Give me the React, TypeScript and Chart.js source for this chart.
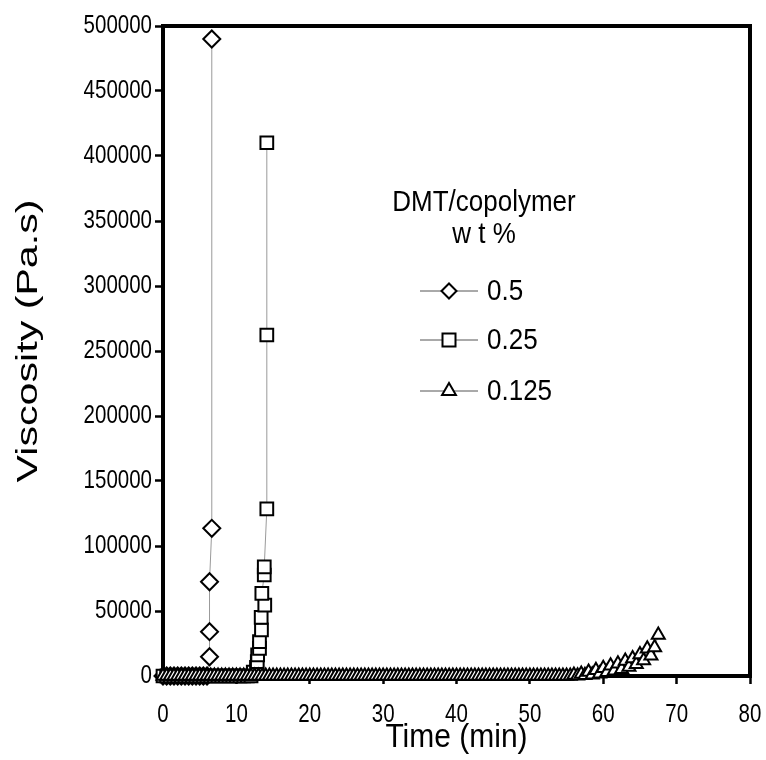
import React, { useEffect, useRef } from 'react';
import { Chart, registerables } from 'chart.js';

Chart.register(...registerables);

// 0.5 wt% (diamonds)
const time05 = [0, 0.5, 1, 1.5, 2, 2.5, 3, 3.5, 4, 4.5, 5, 5.5, 6, 6.34, 6.34, 6.34, 6.65, 6.65];
const visc05 = [0, 0, 0, 0, 0, 0, 0, 0, 0, 0, 0, 0, 0, 14800, 34100, 72500, 113600, 490000];

// 0.25 wt% (squares)
const time025 = [
  0, 0.5, 1, 1.5, 2, 2.5, 3, 3.5, 4, 4.5, 5, 5.5, 6, 6.5, 7, 7.5, 8, 8.5, 9, 9.5, 10, 10.5, 11, 11.5, 12,
  12.3, 12.74, 12.85, 12.9, 13.15, 13.15, 13.42, 13.38, 13.87, 13.47, 13.8, 13.8, 14.15, 14.15, 14.15,
];
const visc025 = [
  0, 0, 0, 0, 0, 0, 0, 0, 0, 0, 0, 0, 0, 0, 0, 0, 0, 0, 0, 0, 0, 0, 0, 0, 0,
  3000, 6700, 11000, 16200, 21300, 26400, 35400, 45100, 54600, 63600, 77700, 84000, 128500, 262300, 410200,
];

// 0.125 wt% (triangles)
const time0125 = [
  0, 0.5, 1, 1.5, 2, 2.5, 3, 3.5, 4, 4.5, 5, 5.5, 6, 6.5, 7, 7.5, 8, 8.5, 9, 9.5,
  10, 10.5, 11, 11.5, 12, 12.5, 13, 13.5, 14, 14.5, 15, 15.5, 16, 16.5, 17, 17.5, 18, 18.5, 19, 19.5,
  20, 20.5, 21, 21.5, 22, 22.5, 23, 23.5, 24, 24.5, 25, 25.5, 26, 26.5, 27, 27.5, 28, 28.5, 29, 29.5,
  30, 30.5, 31, 31.5, 32, 32.5, 33, 33.5, 34, 34.5, 35, 35.5, 36, 36.5, 37, 37.5, 38, 38.5, 39, 39.5,
  40, 40.5, 41, 41.5, 42, 42.5, 43, 43.5, 44, 44.5, 45, 45.5, 46, 46.5, 47, 47.5, 48, 48.5, 49, 49.5,
  50, 50.5, 51, 51.5, 52, 52.5, 53, 53.5, 54, 54.5, 55, 55.5, 56, 56.5, 57, 57.5, 58, 58.5, 59, 59.5,
  60, 60.5, 61, 61.5, 62, 62.5, 63, 63.5, 64, 64.5, 65, 65.5, 66, 66.5, 67, 67.5,
];
const visc0125 = [
  0, 0, 0, 0, 0, 0, 0, 0, 0, 0, 0, 0, 0, 0, 0, 0, 0, 0, 0, 0,
  0, 0, 0, 0, 0, 0, 0, 0, 0, 0, 0, 0, 0, 0, 0, 0, 0, 0, 0, 0,
  0, 0, 0, 0, 0, 0, 0, 0, 0, 0, 0, 0, 0, 0, 0, 0, 0, 0, 0, 0,
  0, 0, 0, 0, 0, 0, 0, 0, 0, 0, 0, 0, 0, 0, 0, 0, 0, 0, 0, 0,
  0, 0, 0, 0, 0, 0, 0, 0, 0, 0, 0, 0, 0, 0, 0, 0, 0, 0, 0, 0,
  0, 0, 0, 0, 0, 0, 0, 0, 0, 0, 0, 0, 800, 200, 1500, 500, 3000, 1000, 4500, 1800,
  6000, 2800, 7800, 4000, 9500, 5200, 11500, 7000, 13500, 9000, 16500, 12000, 21000, 15500, 22000, 31500,
];

const seriesLabels = ['0.5', '0.25', '0.125'];
const legendTitle = ['DMT/copolymer', 'w t %'];
const xTitle = 'Time (min)';
const yTitle = 'Viscosity (Pa.s)';

const FONT = '"Liberation Sans", Arial, Helvetica, sans-serif';

function toPoints(xs: number[], ys: number[]) {
  return xs.map((x, i) => ({ x, y: ys[i] }));
}

function stretchedText(
  ctx: CanvasRenderingContext2D,
  text: string,
  x: number,
  y: number,
  size: number,
  align: CanvasTextAlign,
  sy: number,
  rotate = 0
) {
  ctx.save();
  ctx.translate(x, y);
  if (rotate) ctx.rotate(rotate);
  if (rotate) ctx.scale(sy, 1);
  else ctx.scale(1, sy);
  ctx.font = `${size}px ${FONT}`;
  ctx.fillStyle = '#000';
  ctx.textAlign = align;
  ctx.textBaseline = 'middle';
  ctx.fillText(text, 0, 0);
  ctx.restore();
}

function drawMarker(ctx: CanvasRenderingContext2D, kind: string, x: number, y: number) {
  ctx.beginPath();
  if (kind === 'diamond') {
    const r = 7.5;
    ctx.moveTo(x - r, y);
    ctx.lineTo(x, y - r);
    ctx.lineTo(x + r, y);
    ctx.lineTo(x, y + r);
    ctx.closePath();
  } else if (kind === 'square') {
    const h = 6.5;
    ctx.rect(x - h, y - h, 2 * h, 2 * h);
  } else {
    const r = 8;
    ctx.moveTo(x, y - r);
    ctx.lineTo(x + r * 0.866, y + r * 0.5);
    ctx.lineTo(x - r * 0.866, y + r * 0.5);
    ctx.closePath();
  }
  ctx.fillStyle = '#fff';
  ctx.fill();
  ctx.lineWidth = 2;
  ctx.strokeStyle = '#000';
  ctx.stroke();
}

const framePlugin = {
  id: 'frame',
  beforeDatasetsDraw(chart: any) {
    const { ctx, chartArea: a } = chart;
    ctx.save();
    ctx.strokeStyle = '#000';
    ctx.lineWidth = 4;
    ctx.strokeRect(a.left, a.top, a.right - a.left, a.bottom - a.top);
    ctx.restore();
  },
};

const textPlugin = {
  id: 'axisText',
  afterDraw(chart: any) {
    const ctx: CanvasRenderingContext2D = chart.ctx;
    const xs = chart.scales.x;
    const ys = chart.scales.y;
    const a = chart.chartArea;
    ys.ticks.forEach((t: any, i: number) => {
      stretchedText(ctx, String(t.value), a.left - 11, ys.getPixelForTick(i), 20.5, 'right', 1.25);
    });
    xs.ticks.forEach((t: any, i: number) => {
      stretchedText(ctx, String(t.value), xs.getPixelForTick(i), a.bottom + 39, 20.5, 'center', 1.25);
    });
    stretchedText(ctx, xTitle, (a.left + a.right) / 2, a.bottom + 62, 30, 'center', 1.12);
    stretchedText(ctx, yTitle, 29, 341, 29, 'center', 1.42, -Math.PI / 2);
  },
};

const legendPlugin = {
  id: 'customLegend',
  afterDraw(chart: any) {
    const ctx: CanvasRenderingContext2D = chart.ctx;
    ctx.save();
    stretchedText(ctx, legendTitle[0], 484, 203, 26, 'center', 1.12);
    stretchedText(ctx, legendTitle[1], 484, 235, 26, 'center', 1.12);
    const rows = [291, 340, 391];
    const kinds = ['diamond', 'square', 'triangle'];
    seriesLabels.forEach((lab, i) => {
      const y = rows[i];
      ctx.beginPath();
      ctx.moveTo(420, y);
      ctx.lineTo(478, y);
      ctx.strokeStyle = '#555';
      ctx.lineWidth = 1;
      ctx.stroke();
      drawMarker(ctx, kinds[i], 449, y);
      stretchedText(ctx, lab, 487, y + 1, 26, 'left', 1.12);
    });
    ctx.restore();
  },
};

export default function App() {
  const ref = useRef<HTMLCanvasElement | null>(null);

  useEffect(() => {
    if (!ref.current) return;
    Chart.defaults.font.family = FONT;
    Chart.defaults.color = '#000';
    const common = {
      showLine: true,
      borderColor: '#9a9a9a',
      borderWidth: 1,
      pointBackgroundColor: '#fff',
      pointBorderColor: '#000',
      pointBorderWidth: 2,
      tension: 0,
      clip: false as any,
    };
    const chart = new Chart(ref.current, {
      type: 'line',
      data: {
        datasets: [
          { ...common, label: seriesLabels[2], data: toPoints(time0125, visc0125), pointStyle: 'triangle', pointRadius: 7.5 },
          { ...common, label: seriesLabels[1], data: toPoints(time025, visc025), pointStyle: 'rect', pointRadius: 9 },
          { ...common, label: seriesLabels[0], data: toPoints(time05, visc05), pointStyle: 'rectRot', pointRadius: 8.5 },
        ],
      },
      options: {
        animation: false,
        responsive: false,
        events: [],
        layout: { padding: { top: 26, right: 16, bottom: 0, left: 0 } },
        plugins: { legend: { display: false }, tooltip: { enabled: false } },
        scales: {
          x: {
            type: 'linear',
            min: 0,
            max: 80,
            ticks: { display: false, stepSize: 10 },
            grid: { display: true, drawOnChartArea: false, drawTicks: true, tickLength: 8, tickWidth: 2.5, tickColor: '#000' },
            border: { display: true, color: '#000', width: 4 },
            title: { display: false },
            afterFit: (s: any) => {
              s.height = 84;
            },
          },
          y: {
            type: 'linear',
            min: 0,
            max: 500000,
            ticks: { display: false, stepSize: 50000 },
            grid: { display: true, drawOnChartArea: false, drawTicks: true, tickLength: 8, tickWidth: 2.5, tickColor: '#000' },
            border: { display: true, color: '#000', width: 4 },
            title: { display: false },
            afterFit: (s: any) => {
              s.width = 163;
            },
          },
        },
      },
      plugins: [framePlugin, textPlugin, legendPlugin],
    });
    return () => chart.destroy();
  }, []);

  return (
    <div style={{ position: 'absolute', left: 0, top: 0, width: 766, height: 760, background: '#fff' }}>
      <canvas ref={ref} width={766} height={760} style={{ display: 'block' }} />
    </div>
  );
}
